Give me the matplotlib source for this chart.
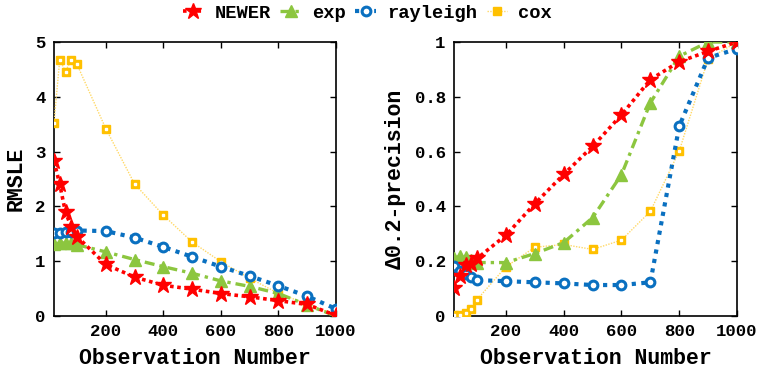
import matplotlib
matplotlib.use("Agg")
import matplotlib.pyplot as plt
from matplotlib.lines import Line2D

x = [20, 40, 60, 80, 100, 200, 300, 400, 500, 600, 700, 800, 900, 1000]

rmsle_newer = [2.83, 2.40, 1.89, 1.63, 1.45, 0.94, 0.71, 0.56, 0.49, 0.41, 0.35, 0.28, 0.21, 0.01]
rmsle_exp = [1.31, 1.33, 1.34, 1.33, 1.30, 1.17, 1.03, 0.90, 0.78, 0.64, 0.54, 0.41, 0.20, 0.0]
rmsle_rayleigh = [1.51, 1.52, 1.53, 1.54, 1.56, 1.55, 1.43, 1.26, 1.08, 0.90, 0.73, 0.55, 0.36, 0.13]
rmsle_cox = [3.53, 4.68, 4.46, 4.68, 4.59, 3.42, 2.41, 1.84, 1.35, 0.99, 0.69, 0.41, 0.22, 0.01]

prec_newer = [0.104, 0.146, 0.186, 0.19, 0.21, 0.295, 0.41, 0.517, 0.619, 0.734, 0.863, 0.928, 0.966, 1.0]
prec_exp = [0.21, 0.218, 0.214, 0.204, 0.195, 0.195, 0.228, 0.268, 0.359, 0.516, 0.778, 0.948, 1.0, 1.0]
prec_rayleigh = [0.183, 0.165, 0.152, 0.141, 0.131, 0.127, 0.123, 0.119, 0.113, 0.113, 0.123, 0.693, 0.942, 0.975]
prec_cox = [0.004, 0.005, 0.01, 0.025, 0.06, 0.18, 0.251, 0.261, 0.243, 0.277, 0.382, 0.602, 0.938, 1.0]

labels = ["NEWER", "exp", "rayleigh", "cox"]
xticks = [200, 400, 600, 800, 1000]
yticks_left = [0, 1, 2, 3, 4, 5]
yticks_right = [0, 0.2, 0.4, 0.6, 0.8, 1]
yticklabels_right = ["0", "0.2", "0.4", "0.6", "0.8", "1"]

RED = "#ff0000"
GREEN = "#8cc63f"
BLUE = "#0a70c0"
ORANGE = "#ffc000"
ORANGE_LINE = "#ffd966"

FONT = "Liberation Mono"
plt.rcParams["font.family"] = [FONT, "DejaVu Sans"]
plt.rcParams["font.weight"] = "bold"

styles = {
    "NEWER": dict(color=RED, ls=(0, (1, 1)), lw=2.6, marker="*", ms=12, mfc=RED, mec=RED, zorder=6),
    "exp": dict(color=GREEN, ls=(0, (3, 1.5, 1, 1.5)), lw=2.4, marker="^", ms=8, mfc=GREEN, mec=GREEN, zorder=4),
    "rayleigh": dict(color=BLUE, ls=(0, (1, 1.3)), lw=3.0, marker="o", ms=6.3, mfc="white", mec=BLUE, mew=2.2, zorder=5),
    "cox": dict(color=ORANGE_LINE, ls=(0, (1, 1)), lw=1.0, marker="s", ms=5.8, mfc=ORANGE, mec=ORANGE, zorder=3),
}

fig = plt.figure(figsize=(7.59, 3.74), dpi=100)
axL = fig.add_axes([54 / 759, 58 / 374, 282 / 759, 274 / 374])
axR = fig.add_axes([454 / 759, 58 / 374, 283 / 759, 274 / 374])

def draw(ax, series):
    for name, ys in zip(labels, series):
        st = dict(styles[name])
        ax.plot(x, ys, **st)
        if name == "cox":
            ax.plot(x, ys, ls="none", marker="s", ms=1.5, mfc="white", mec="white", zorder=3.5)

draw(axL, [rmsle_newer, rmsle_exp, rmsle_rayleigh, rmsle_cox])
draw(axR, [prec_newer, prec_exp, prec_rayleigh, prec_cox])

for ax in (axL, axR):
    ax.set_xlim(20, 1000)
    ax.set_xticks(xticks)
    ax.set_xticklabels([str(t) for t in xticks], fontsize=12.5, fontweight="bold", family=FONT)
    ax.tick_params(direction="in", top=True, right=True, length=4, width=1, pad=6)
    ax.set_xlabel("Observation Number", fontsize=15.5, fontweight="bold", family=FONT, labelpad=6)
    for s in ax.spines.values():
        s.set_linewidth(1.2)

axL.set_ylim(0, 5)
axL.set_yticks(yticks_left)
axL.set_yticklabels([str(t) for t in yticks_left], fontsize=12.5, fontweight="bold", family=FONT)
axL.set_ylabel("RMSLE", fontsize=15.5, fontweight="bold", family=FONT, labelpad=6)

axR.set_ylim(0, 1)
axR.set_yticks(yticks_right)
axR.set_yticklabels(yticklabels_right, fontsize=12.5, fontweight="bold", family=FONT)
axR.set_ylabel("Δ0.2-precision", fontsize=15.5, fontweight="bold", family=[FONT, "DejaVu Sans"], labelpad=6)

handles = []
for name in labels:
    st = dict(styles[name])
    st.pop("zorder")
    handles.append(Line2D([0], [0], **st))
fig.legend(handles, labels, loc="center", bbox_to_anchor=(367.5 / 759, 1 - 13 / 374), ncol=4, frameon=False,
           prop={"family": FONT, "weight": "bold", "size": 13.5}, handlelength=1.1, columnspacing=0.5,
           handletextpad=0.6, borderpad=0.0, borderaxespad=0.0)

fig.savefig("out.png", dpi=100)
